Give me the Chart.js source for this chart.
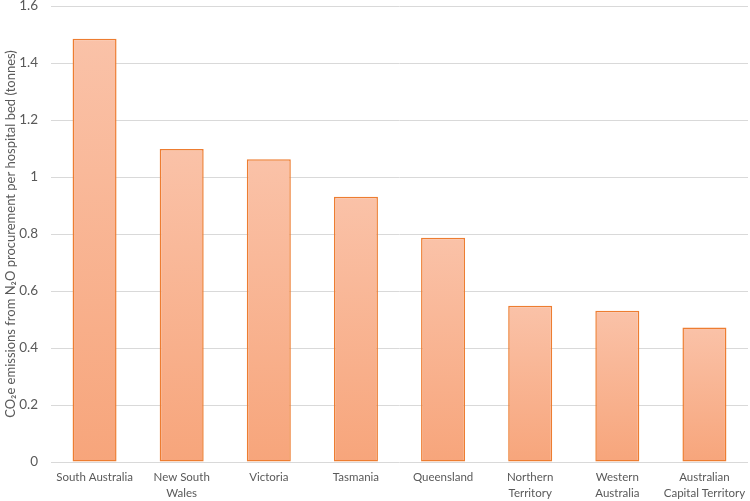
<!DOCTYPE html>
<html>
<head>
<meta charset="utf-8">
<script src="https://cdn.jsdelivr.net/npm/chart.js"></script>
<style>
    html, body {margin: 0; padding: 0; background: #fff;}
    #wrap {width: 750px; height: 501px;}
</style>
</head>
<body>
<div id="wrap"><canvas id="myChart"></canvas></div>
<script>
// data
const regions = [
    'South Australia',
    ['New South', 'Wales'],
    'Victoria',
    'Tasmania',
    'Queensland',
    ['Northern', 'Territory'],
    ['Western', 'Australia'],
    ['Australian', 'Capital Territory']
]
const emissions = [1.485, 1.098, 1.062, 0.931, 0.787, 0.548, 0.531, 0.472]

const yMin = 0
const yMax = 1.6
const yStep = 0.2

const textColor = '#595959'
const gridColor = '#d9d9d9'

// each bar gets its own vertical gradient, light on top
function barGradient(context) {
    const chart = context.chart
    const {ctx, chartArea, scales} = chart
    if (!chartArea) return '#f8b493'
    const value = emissions[context.dataIndex]
    const top = scales.y.getPixelForValue(value)
    const bottom = scales.y.getPixelForValue(0)
    const g = ctx.createLinearGradient(0, top, 0, bottom)
    g.addColorStop(0, '#fac2a8')
    g.addColorStop(1, '#f7a57b')
    return g
}

const ctx = document.getElementById('myChart')

new Chart(ctx, {
    type: 'bar',
    data: {
        labels: regions,
        datasets: [{
            data: emissions,
            backgroundColor: barGradient,
            borderColor: '#ed7d31',
            borderWidth: 1.5,
            borderSkipped: false,
            categoryPercentage: 1,
            barPercentage: 0.505
        }]
    },
    options: {
        responsive: true,
        maintainAspectRatio: false,
        animation: false,
        layout: {
            padding: {top: 6, right: 2, left: 0, bottom: 0}
        },
        plugins: {
            legend: {display: false},
            tooltip: {enabled: false}
        },
        scales: {
            x: {
                grid: {display: false},
                border: {display: false},
                ticks: {
                    color: textColor,
                    font: {family: 'Lato', size: 11.5, lineHeight: 1.35},
                    padding: 0,
                    maxRotation: 0,
                    autoSkip: false
                },
                afterFit: (scale) => { scale.height = 39 }
            },
            y: {
                min: yMin,
                max: yMax,
                border: {display: false},
                grid: {color: gridColor, lineWidth: 1, drawTicks: false},
                ticks: {
                    stepSize: yStep,
                    color: textColor,
                    font: {family: 'Lato', size: 13.5},
                    padding: 13,
                    callback: (v) => String(Math.round(v * 10) / 10)
                },
                title: {
                    display: true,
                    text: 'CO\u2082e emissions from N\u2082O procurement per hospital bed (tonnes)',
                    color: textColor,
                    font: {family: 'Lato', size: 13},
                    padding: {top: 3, bottom: 0}
                },
                afterFit: (scale) => {
                    scale.width = 51
                    scale.paddingTop = 0
                    scale.paddingBottom = 0
                }
            }
        }
    }
})
</script>
</body>
</html>
